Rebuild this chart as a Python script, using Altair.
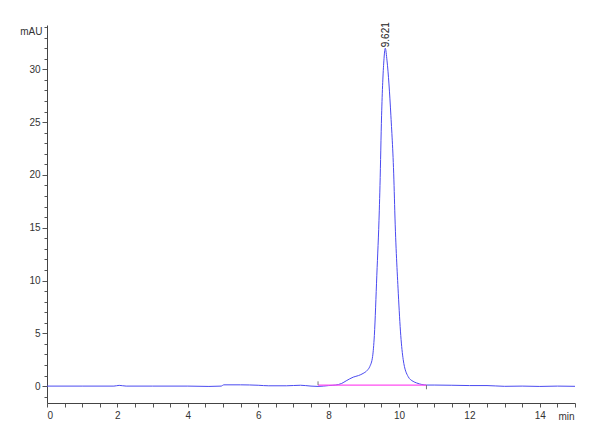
import altair as alt
import pandas as pd

# Chromatogram trace (retention time in min, absorbance in mAU)
times = [0.0, 1.0, 1.9, 2.05, 2.25, 3.0, 4.0, 4.6, 4.95, 5.02, 5.5, 6.0, 6.3, 6.8, 7.2,
         7.5, 7.7, 8.0, 8.2, 8.37, 8.5, 8.7, 8.85, 8.98, 9.1, 9.17, 9.25, 9.30, 9.37,
         9.44, 9.46, 9.505, 9.57, 9.61, 9.66, 9.77, 9.86, 9.88, 9.98, 10.05, 10.12,
         10.26, 10.4, 10.5, 10.65, 10.78, 11.0, 11.5, 12.0, 12.5, 13.0, 13.5, 14.0,
         14.5, 15.0]
signal = [0.0, 0.0, 0.0, 0.07, 0.0, 0.0, 0.0, -0.03, 0.0, 0.12, 0.12, 0.08, 0.03, 0.03,
          0.08, 0.0, -0.03, 0.05, 0.1, 0.25, 0.5, 0.85, 1.0, 1.2, 1.5, 1.85, 2.8, 4.8,
          10.5, 16.6, 19.0, 25.6, 30.8, 32.0, 30.8, 25.6, 19.0, 16.6, 8.8, 4.8, 2.5,
          0.9, 0.45, 0.3, 0.15, 0.1, 0.1, 0.08, 0.05, 0.05, -0.02, 0.0, -0.03, 0.0, -0.02]

# Integration baseline
base_t = [7.7, 10.78]
base_v = [0.1, 0.1]
# Baseline start/end markers
mark_t = [7.7, 10.78]
mark_lo = [0.1, 0.1]
mark_hi = [0.45, -0.3]

# Peak annotation
peak_t = [9.621]
peak_h = [32.0]
peak_lbl = ["9.621"]

x_ticks = [i * 0.5 for i in range(31)]
y_ticks = list(range(-1, 35))

trace_df = pd.DataFrame({"t": times, "v": signal})
base_df = pd.DataFrame({"t": base_t, "v": base_v})
mark_df = pd.DataFrame({"t": mark_t, "lo": mark_lo, "hi": mark_hi})
peak_df = pd.DataFrame({"t": peak_t, "v": peak_h, "lbl": peak_lbl})

FONT = "Liberation Sans"
xs = alt.Scale(domain=[0, 15], nice=False, zero=False)
ys = alt.Scale(domain=[-1.6, 34.2], nice=False, zero=False)

x_axis = alt.Axis(
    values=x_ticks,
    tickCount=200,
    format=".0f",
    labelExpr="datum.value % 2 === 0 ? datum.label : ''",
    labelOverlap=False,
    grid=False,
    tickSize=4,
    tickColor="#555",
    domainColor="#444",
    labelFont=FONT,
    labelFontSize=10,
    labelColor="#333",
    labelPadding=3,
    title="min",
    titleFont=FONT,
    titleFontSize=10,
    titleFontWeight="normal",
    titleColor="#333",
    titleAnchor="end",
    titleAlign="right",
    titleBaseline="alphabetic",
    titleX=527,
    titleY=16,
)
y_axis = alt.Axis(
    values=y_ticks,
    tickCount=200,
    format=".0f",
    labelExpr="datum.value % 5 === 0 ? datum.label : ''",
    labelOverlap=False,
    grid=False,
    tickSize={"condition": {"test": "datum.value % 5 === 0", "value": 5}, "value": 3},
    tickColor="#555",
    domainColor="#444",
    labelFont=FONT,
    labelFontSize=10,
    labelColor="#333",
    labelPadding=2,
    title="mAU",
    titleFont=FONT,
    titleFontSize=10,
    titleFontWeight="normal",
    titleColor="#333",
    titleAngle=0,
    titleAlign="right",
    titleBaseline="alphabetic",
    titleX=-5,
    titleY=9,
)

trace = alt.Chart(trace_df).mark_line(color="#4a4af0", strokeWidth=1, interpolate="monotone").encode(
    x=alt.X("t:Q", scale=xs, axis=x_axis),
    y=alt.Y("v:Q", scale=ys, axis=y_axis),
)
baseline = alt.Chart(base_df).mark_line(color="#ff4df0", strokeWidth=1.2).encode(
    x=alt.X("t:Q", scale=xs),
    y=alt.Y("v:Q", scale=ys),
)
markers = alt.Chart(mark_df).mark_rule(color="#777", strokeWidth=1).encode(
    x=alt.X("t:Q", scale=xs),
    y=alt.Y("lo:Q", scale=ys),
    y2="hi:Q",
)
label = alt.Chart(peak_df).mark_text(
    angle=270, align="left", baseline="middle", dx=1, font=FONT, fontSize=10, color="#222"
).encode(
    x=alt.X("t:Q", scale=xs),
    y=alt.Y("v:Q", scale=ys),
    text="lbl:N",
)

chart = (
    alt.layer(trace, baseline, markers, label)
    .properties(
        width=528,
        height=378,
        autosize=alt.AutoSizeParams(type="none"),
        padding={"left": 39, "top": 17, "right": 15, "bottom": 29},
        background="white",
    )
    .configure_view(stroke=None)
)

chart.save("out.html", embed_options={"renderer": "svg", "actions": False})
